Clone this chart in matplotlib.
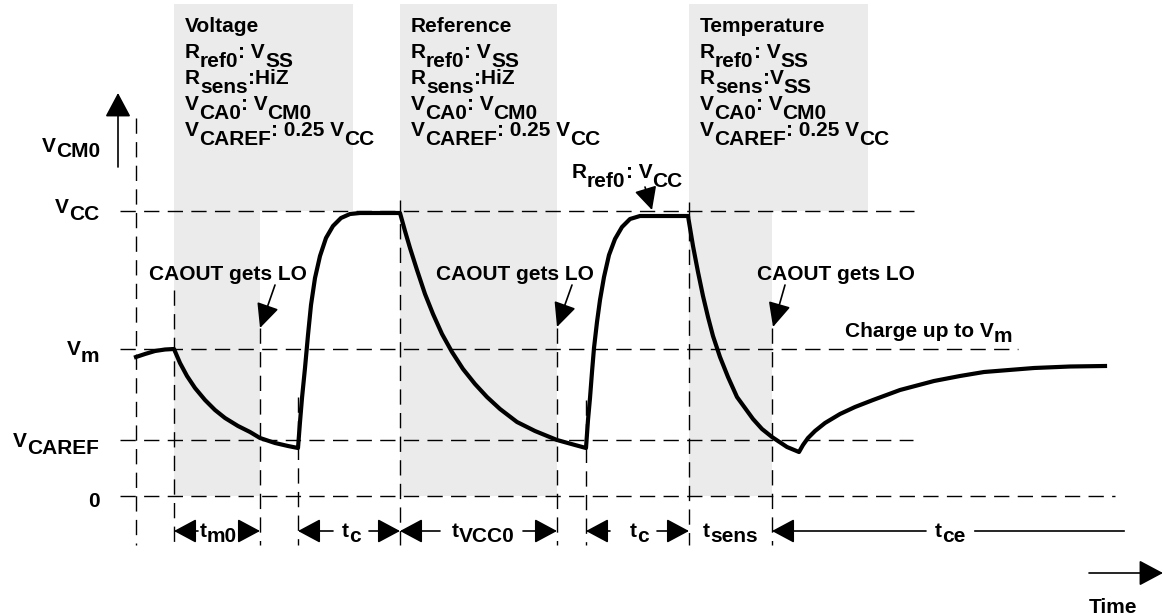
import re
import matplotlib
matplotlib.use('Agg')
import matplotlib.pyplot as plt
from matplotlib.patches import Rectangle

W, H, DPI = 1167, 616, 100
SPACE = 5.8          # width of a blank in px
SUB = 9              # subscript drop in px

plt.rcParams['font.family'] = ['Liberation Sans', 'DejaVu Sans']
FONT = dict(fontsize=15, fontweight='bold', color='black', zorder=5)

# --- signal levels (drawing rows) ---
level_labels = ['V_{CC}', 'V_{m}', 'V_{CAREF}', '0']
level_y = [211, 349, 440, 496]
level_end = [914, 1018, 913, 1115]
level_start = 120
label_x = [55, 67, 13, 88]
label_base = [213, 355, 447, 507]

# --- phase boundaries on the time axis ---
edge_x = [136, 174, 260, 298, 400, 557, 586, 689, 772]
edge_top = [118, 290, 328, 397, 200, 328, 400, 202, 328]
edge_bottom = 545

# --- shaded measurement phases ---
phase_x0 = [174, 400, 689]
phase_head_x1 = [353, 557, 868]
phase_low_x1 = [260, 557, 772]
phase_text = [
    ['Voltage', 'R_{ref0}: V_{SS}', 'R_{sens}:HiZ', 'V_{CA0}: V_{CM0}', 'V_{CAREF}: 0.25 V_{CC}'],
    ['Reference', 'R_{ref0}: V_{SS}', 'R_{sens}:HiZ', 'V_{CA0}: V_{CM0}', 'V_{CAREF}: 0.25 V_{CC}'],
    ['Temperature', 'R_{ref0}: V_{SS}', 'R_{sens}:V_{SS}', 'V_{CA0}: V_{CM0}', 'V_{CAREF}: 0.25 V_{CC}'],
]

# --- capacitor voltage, piece by piece ---
pre_x = [136, 145, 155, 165, 174]
pre_y = [357, 354, 351, 349.5, 349]
dis1_x = [174, 180, 187, 195, 205, 215, 225, 238, 250, 260, 275, 288, 298]
dis1_y = [349, 363, 376, 388, 400, 410, 418, 426, 432, 438, 443, 446, 448]
chg1_x = [298, 300, 302, 305, 308, 311, 315, 320, 326, 333, 341, 350, 360, 400]
chg1_y = [448, 422, 398, 368, 335, 305, 278, 256, 238, 226, 218, 214, 213, 213]
dis2_x = [400, 405, 410, 417, 425, 433, 442, 452, 463, 475, 487, 500, 517, 535, 557, 575, 586]
dis2_y = [213, 231, 248, 270, 294, 314, 334, 352, 369, 384, 397, 409, 422, 431, 440, 445, 448]
chg2_x = [586, 588, 590, 592, 594, 597, 600, 604, 609, 615, 622, 630, 640, 688]
chg2_y = [448, 420, 398, 372, 348, 322, 300, 277, 255, 239, 227, 219, 216, 216]
dis3_x = [688, 690, 693, 698, 703, 708, 713, 720, 728, 737, 745, 753, 762, 772, 787, 799]
dis3_y = [216, 228, 246, 272, 296, 317, 336, 357, 377, 397, 408, 419, 429, 437, 447, 452]
end_x = [799, 803, 808, 815, 825, 840, 855, 873, 900, 934, 960, 984, 1034, 1070, 1105]
end_y = [452, 445, 438, 431, 423, 414, 407, 400, 390, 381, 376, 372, 368, 366.5, 366]

# --- interval markers under the plot ---
iv_labels = ['t_{m0}', 't_{c}', 't_{VCC0}', 't_{c}', 't_{sens}', 't_{ce}']
iv_x0 = [174, 298, 400, 586, None, 772]
iv_x1 = [260, 400, 557, 689, None, 1124]
iv_gap = [(198, 239), (333, 369), (440, 523), (610, 657), None, (926, 975)]
iv_text_x = [200, 342, 452, 630, 703, 935]
iv_y = 531

caout_x = [149, 436, 757]
caout_from = [(275, 285), (572, 285), (785, 285)]
caout_to = [(260, 328), (557, 327), (773, 327)]

fig = plt.figure(figsize=(W / DPI, H / DPI), dpi=DPI)
ax = fig.add_axes([0, 0, 1, 1])
ax.set_xlim(0, W)
ax.set_ylim(H, 0)
ax.axis('off')


def pieces(s):
    out = []
    for m in re.finditer(r'_\{([^}]*)\}|([^_]+)', s):
        if m.group(1) is not None:
            out.append((m.group(1), 1))
        else:
            out.append((m.group(2), 0))
    return out


def rich(x, y, s, sub=SUB):
    # draw text with full-size lowered subscripts, pieces chained left to right
    prev, prev_shift, carry = None, 0, 0
    for text, is_sub in pieces(s):
        shift = sub if is_sub else 0
        lead = len(text) - len(text.lstrip(' '))
        trail = len(text) - len(text.rstrip(' '))
        text = text.strip(' ')
        gap = (carry + lead) * SPACE
        carry = trail
        if not text:
            continue
        if prev is None:
            prev = ax.text(x + gap, y + shift, text, ha='left', va='baseline', **FONT)
        else:
            prev = ax.annotate(text, xy=(1, 0), xycoords=prev,
                               xytext=(gap * 72 / DPI, -(shift - prev_shift) * 72 / DPI),
                               textcoords='offset points', ha='left', va='bottom', **FONT)
        prev_shift = shift


def arrow(p0, p1, hl=16, hw=16, lw=1.2):
    ax.annotate('', xy=p1, xytext=p0,
                arrowprops=dict(arrowstyle='-|>,head_length=%.2f,head_width=%.2f'
                                % (hl * 0.1, hw / 2 * 0.1),
                                mutation_scale=10, lw=lw, color='black',
                                shrinkA=0, shrinkB=0), zorder=5)


shade = '#ebebeb'
for x0, xh, xl in zip(phase_x0, phase_head_x1, phase_low_x1):
    ax.add_patch(Rectangle((x0, 4), xh - x0, level_y[0] - 4, color=shade, lw=0, zorder=0))
    ax.add_patch(Rectangle((x0, level_y[0]), xl - x0, level_y[3] - level_y[0], color=shade, lw=0, zorder=0))

dash = dict(color='black', lw=1.0, dashes=(11, 6), zorder=1)
for y, xe in zip(level_y, level_end):
    ax.plot([level_start, xe], [y, y], **dash)
for x, yt in zip(edge_x, edge_top):
    ax.plot([x, x], [yt, edge_bottom], **dash)

wave_x = pre_x + dis1_x + chg1_x + dis2_x + chg2_x + dis3_x + end_x
wave_y = pre_y + dis1_y + chg1_y + dis2_y + chg2_y + dis3_y + end_y
ax.plot(wave_x, wave_y, color='black', lw=3, solid_joinstyle='round', zorder=3)

# axis labels
rich(42, 152, 'V_{CM0}', sub=5)
for lab, x, b in zip(level_labels, label_x, label_base):
    rich(x, b, lab, sub=7)
arrow((118, 167), (118, 93), hl=15, hw=16)
arrow((1089, 573), (1163, 573), hl=15, hw=16)
rich(1089, 613, 'Time')

# phase headers
for x0, lines in zip(phase_x0, phase_text):
    for i, line in enumerate(lines):
        rich(x0 + 11, 32 + 26 * i, line)

for x, p0, p1 in zip(caout_x, caout_from, caout_to):
    rich(x, 280, 'CAOUT gets LO')
    arrow(p0, p1, hl=15, hw=14)

rich(572, 178, 'R_{ref0}: V_{CC}')
arrow((645, 187), (652, 210), hl=14, hw=14)
rich(845, 337, 'Charge up to V_{m}', sub=5)

# interval arrows
for lab, x0, x1, gap, tx in zip(iv_labels, iv_x0, iv_x1, iv_gap, iv_text_x):
    rich(tx, 537, lab, sub=5)
    if gap is None:
        continue
    arrow((gap[0], iv_y), (x0, iv_y), hl=14, hw=15)
    if lab == 't_{ce}':
        ax.plot([gap[1], x1], [iv_y, iv_y], color='black', lw=1.2, zorder=5)
    else:
        arrow((gap[1], iv_y), (x1, iv_y), hl=14, hw=15)

fig.savefig('out.png', dpi=DPI)
